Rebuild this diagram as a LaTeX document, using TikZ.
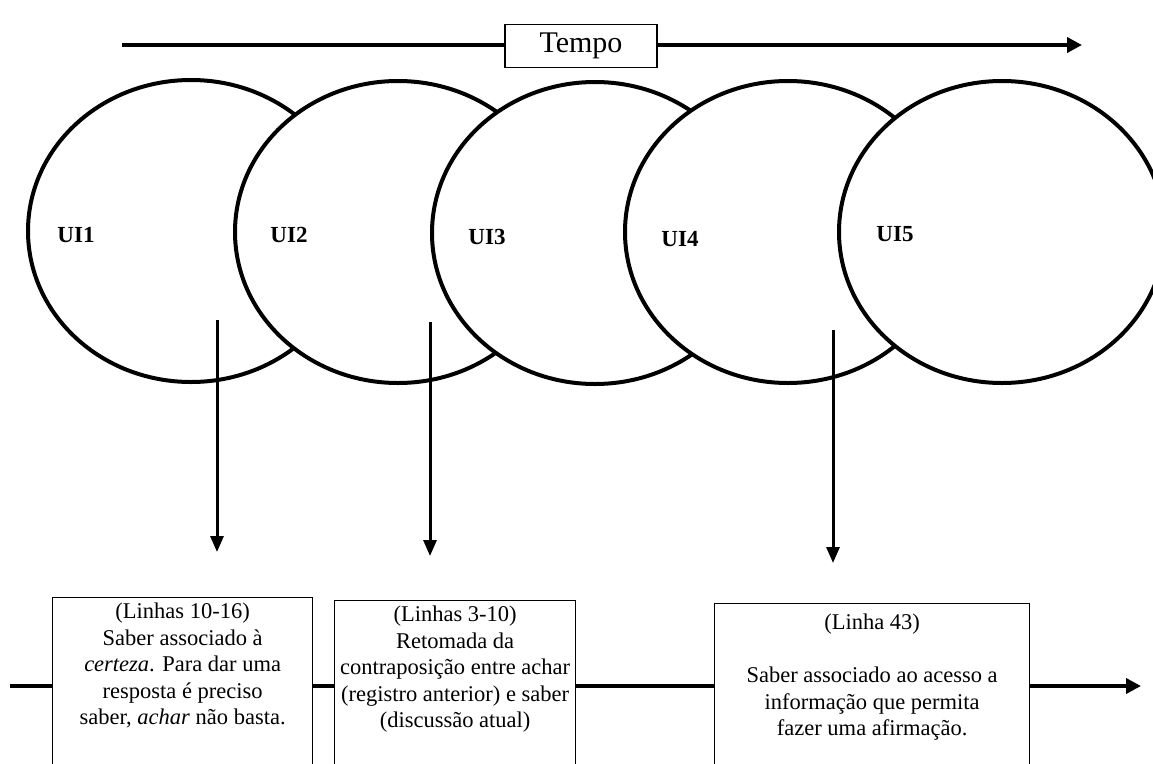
\documentclass[tikz,border=0pt]{standalone}
\usepackage{fontspec}
\setmainfont{Liberation Serif}
\usetikzlibrary{arrows.meta,shapes.geometric}
\begin{document}
\begin{tikzpicture}[x=1pt,y=-1pt,
  unit/.style={ellipse,draw,fill=white,line width=4pt,minimum width=326pt,minimum height=302pt,inner sep=0pt},
  uilabel/.style={font=\fontsize{23}{27}\selectfont\bfseries,inner sep=0pt},
  textbox/.style={draw,line width=1.3pt,minimum height=190pt,anchor=north west,inner sep=0pt},
  boxtext/.style={font=\fontsize{22.5}{26.5}\selectfont,align=center,anchor=north,inner sep=0pt},
  axis/.style={line width=3.8pt},
  axisarrow/.style={line width=3.8pt,-{Triangle[length=15pt,width=15pt]}},
  droparrow/.style={line width=3pt,-{Triangle[length=16pt,width=13pt]}}]
\clip (0,0) rectangle (1153,763);

% time axis with its label box
\node[draw,line width=1.3pt,minimum width=152pt,minimum height=43pt,font=\fontsize{30}{34}\selectfont] (tempo) at (581,46) {Tempo};
\coordinate (ts) at (122,45);
\coordinate (te) at (1082,45);
\draw[axis] (ts) -- (ts -| tempo.west);
\draw[axisarrow] (tempo.east |- te) -- (te);

% overlapping units of interaction, each one covering the previous
\node[unit] (c1) at (191,231) {};
\node[unit] (c2) at (398,232) {};
\node[unit] (c3) at (595,233) {};
\node[unit] (c4) at (788,232) {};
\node[unit] (c5) at (1002,232) {};
\node[uilabel] (u1) at (76,235) {UI1};
\node[uilabel] (u2) at (289,235) {UI2};
\node[uilabel] (u3) at (487,237) {UI3};
\node[uilabel] (u4) at (680,239) {UI4};
\node[uilabel] (u5) at (895,234) {UI5};

% arrows pointing down to the descriptions
\coordinate (d1s) at (217,320); \coordinate (d1e) at (217,552);
\coordinate (d2s) at (430,322); \coordinate (d2e) at (430,556);
\coordinate (d3s) at (833,330); \coordinate (d3e) at (833,563);
\draw[droparrow] (d1s) -- (d1e);
\draw[droparrow] (d2s) -- (d2e);
\draw[droparrow] (d3s) -- (d3e);

% description boxes
\node[textbox,minimum width=260pt] (b1) at (52,597) {};
\node[textbox,minimum width=241pt] (b2) at (334,600) {};
\node[textbox,minimum width=315pt] (b3) at (714,603) {};
\node[boxtext] (t1) at ([yshift=-6pt]b1.north) {(Linhas 10-16)\\Saber associado à\\\textit{certeza}. Para dar uma\\resposta é preciso\\saber, \textit{achar} não basta.};
\node[boxtext] (t2) at ([yshift=-6pt]b2.north) {(Linhas 3-10)\\Retomada da\\contraposição entre achar\\(registro anterior) e saber\\(discussão atual)};
\node[boxtext] (t3) at ([yshift=-11pt]b3.north) {(Linha 43)\\[26.5pt]Saber associado ao acesso a\\informação que permita\\fazer uma afirmação.};

% lower time line through the boxes
\coordinate (ls) at (10,686);
\coordinate (le) at (1141,686);
\draw[axis] (ls) -- (ls -| b1.west);
\draw[axis] (b1.east |- ls) -- (b2.west |- ls);
\draw[axis] (b2.east |- ls) -- (b3.west |- ls);
\draw[axisarrow] (b3.east |- le) -- (le);
\end{tikzpicture}
\end{document}
